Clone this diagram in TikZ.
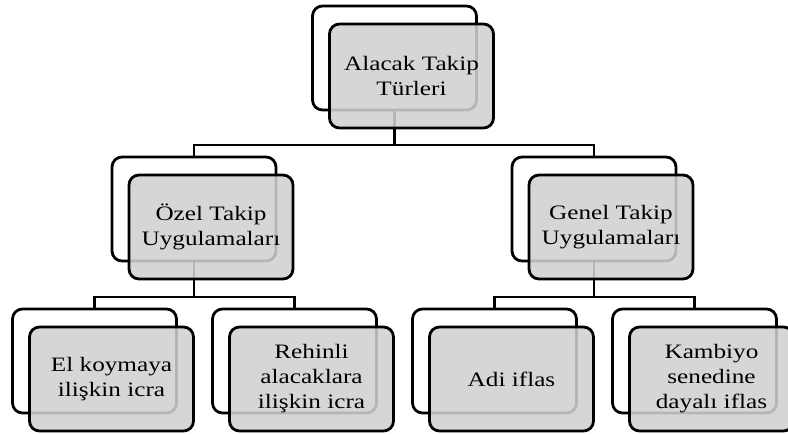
\documentclass[tikz,border=0pt]{standalone}
\usepackage{fontspec}
\setmainfont{Liberation Serif}[FakeStretch=1.23]
\usetikzlibrary{backgrounds}
\definecolor{boxgray}{RGB}{208,208,208}
\tikzset{
  backbox/.style={draw=black, line width=2.8pt, rounded corners=10pt, minimum width=164pt, minimum height=104pt, inner sep=0pt},
  frontbox/.style={draw=black, line width=2.8pt, rounded corners=10pt, minimum width=164pt, minimum height=104pt, inner sep=0pt,
    fill=boxgray, fill opacity=0.87, text opacity=1, align=center, font=\fontsize{20.5}{25}\selectfont},
  conn/.style={draw=black, line width=2.1pt}
}
\begin{document}
\begin{tikzpicture}[x=1pt,y=-1pt]
\useasboundingbox (0,0) rectangle (788,435);
% root
\node[backbox] (rb) at (394.5,58) {};
\node[frontbox] (rf) at (411.5,76) {Alacak Takip\\Türleri};
% level 2
\node[backbox] (ab) at (194,209) {};
\node[frontbox] (af) at (211,227) {Özel Takip\\Uygulamaları};
\node[backbox] (bb) at (594,209) {};
\node[frontbox] (bf) at (611,227) {Genel Takip\\Uygulamaları};
% level 3
\node[backbox] (cb) at (94.5,361) {};
\node[frontbox] (cf) at (111.5,379) {El koymaya\\ilişkin icra};
\node[backbox] (db) at (294.5,361) {};
\node[frontbox] (df) at (311.5,379) {Rehinli\\alacaklara\\ilişkin icra};
\node[backbox] (eb) at (494.5,361) {};
\node[frontbox] (ef) at (511.5,379) {Adi iflas};
\node[backbox] (fb) at (694.5,361) {};
\node[frontbox] (ff) at (711.5,379) {Kambiyo\\senedine\\dayalı iflas};
% connectors
\coordinate (j1) at (394.5,145);
\coordinate (j2) at (194,297);
\coordinate (j3) at (594,297);
\begin{scope}[on background layer]
\draw[conn] (rb.south) -- (j1) -| (ab.north);
\draw[conn] (j1) -| (bb.north);
\draw[conn] (ab.south) -- (j2) -| (cb.north);
\draw[conn] (j2) -| (db.north);
\draw[conn] (bb.south) -- (j3) -| (eb.north);
\draw[conn] (j3) -| (fb.north);
\end{scope}
\end{tikzpicture}
\end{document}
